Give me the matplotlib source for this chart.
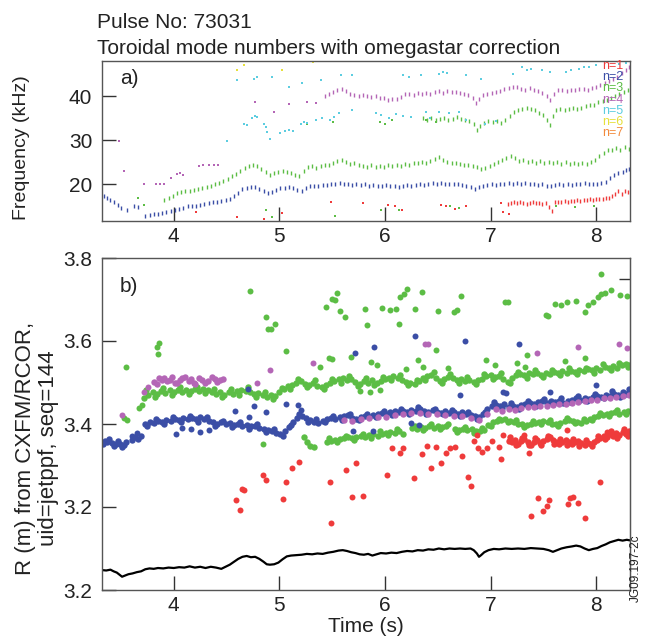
import matplotlib
matplotlib.use("Agg")
import matplotlib.pyplot as plt

plt.rcParams['font.family'] = ['Liberation Sans', 'DejaVu Sans']

# ---------------- panel a) frequency of modes ----------------
a_n2_t = [3.34,3.37,3.40,3.43,3.47,3.50,3.56,3.62,3.66,3.73,
          3.77,3.81,3.85,3.89,3.93,3.97,4.01,4.05,4.09,4.13,
          4.17,4.21,4.25,4.29,4.33,4.37,4.41,4.45,4.49,4.53,
          4.57,4.61,4.65,4.69,4.73,4.77,4.81,4.85,4.89,4.93,
          4.97,5.01,5.05,5.09,5.13,5.17,5.21,5.25,5.29,5.33,
          5.37,5.41,5.45,5.49,5.53,5.57,5.61,5.65,5.69,5.73,
          5.77,5.81,5.85,5.89,5.93,5.97,6.01,6.05,6.09,6.13,
          6.17,6.21,6.25,6.29,6.33,6.37,6.41,6.45,6.49,6.53,
          6.57,6.61,6.65,6.69,6.73,6.77,6.81,6.85,6.89,6.93,
          6.97,7.01,7.05,7.09,7.13,7.17,7.21,7.25,7.29,7.33,
          7.37,7.41,7.45,7.49,7.53,7.57,7.61,7.65,7.69,7.73,
          7.77,7.81,7.85,7.89,7.93,7.97,8.01,8.05,8.09,8.13,
          8.17,8.21,8.25,8.28,8.31]
a_n2_f = [17.4,17.0,16.5,16.1,15.3,14.6,14.2,15.0,14.8,12.9,
          13.1,13.3,13.4,13.6,13.8,14.0,14.2,14.5,14.7,15.0,
          15.1,15.2,15.3,15.5,15.7,15.9,16.0,16.2,16.4,16.8,
          17.4,18.1,18.9,19.2,19.3,19.3,18.9,18.4,18.0,18.2,
          18.7,19.1,19.2,19.3,19.1,18.8,18.6,19.2,19.6,19.7,
          19.6,19.8,19.9,20.0,20.2,20.3,20.1,20.2,19.9,20.1,
          19.8,20.0,19.7,19.9,19.7,19.6,19.8,19.6,19.7,19.5,
          19.6,19.8,19.7,19.9,20.0,19.9,20.2,20.3,20.1,20.3,
          20.0,20.2,20.0,20.1,19.8,19.7,19.4,19.0,19.3,19.6,
          19.9,20.0,19.8,20.1,20.0,20.3,20.2,20.4,20.1,20.3,
          20.0,20.2,19.9,20.1,19.7,19.6,19.9,20.1,19.8,20.0,
          19.9,20.1,20.0,20.3,20.1,20.2,20.0,20.3,20.6,21.5,
          22.1,22.6,22.9,23.2,23.4]

a_n3_t = [3.91,3.95,3.99,4.03,4.07,4.11,4.15,4.19,4.23,4.27,
          4.31,4.35,4.39,4.43,4.47,4.51,4.55,4.59,4.63,4.67,
          4.71,4.75,4.79,4.83,4.87,4.91,4.95,4.99,5.03,5.07,
          5.11,5.15,5.19,5.23,5.27,5.31,5.35,5.39,5.43,5.47,
          5.51,5.55,5.59,5.63,5.67,5.71,5.75,5.79,5.83,5.87,
          5.91,5.95,5.99,6.03,6.07,6.11,6.15,6.19,6.23,6.27,
          6.31,6.35,6.39,6.43,6.47,6.51,6.55,6.59,6.63,6.67,
          6.71,6.75,6.79,6.83,6.87,6.91,6.95,6.99,7.03,7.07,
          7.11,7.15,7.19,7.23,7.27,7.31,7.35,7.39,7.43,7.47,
          7.51,7.55,7.59,7.63,7.67,7.71,7.75,7.79,7.83,7.87,
          7.91,7.95,7.99,8.03,8.07,8.11,8.15,8.19,8.23,8.27,
          8.31]
a_n3_f = [16.5,16.9,17.4,18.0,18.2,18.4,18.5,18.7,18.9,19.1,
          19.3,19.6,20.0,20.4,20.8,21.3,21.8,22.4,23.1,23.7,
          24.2,24.5,24.1,23.4,22.7,22.2,22.6,22.9,23.1,22.9,
          22.6,22.2,21.9,23.0,24.0,24.1,23.8,24.2,24.4,24.3,
          24.8,25.2,25.5,25.0,24.6,24.9,24.4,24.1,24.0,24.3,
          24.0,24.2,24.0,24.3,24.1,24.3,24.2,24.6,24.4,24.8,
          24.9,25.1,24.8,25.3,25.8,26.2,25.5,25.0,24.8,24.9,
          24.6,24.4,24.5,24.2,23.9,23.6,23.8,24.2,24.7,25.1,
          25.5,26.0,26.4,25.9,25.4,25.6,25.0,25.3,24.9,25.2,
          24.8,25.1,24.8,25.0,24.7,25.0,24.6,24.9,24.6,24.9,
          24.7,25.1,25.6,26.4,27.2,27.7,27.9,28.3,27.8,28.4,
          28.0]

a_n3u_t = [6.36,6.40,6.44,6.48,6.52,6.56,6.60,6.64,6.68,6.72,
           6.76,6.80,6.84,6.87,6.90,6.94,6.98,7.02,7.06,7.10,
           7.14,7.18,7.22,7.26,7.30,7.34,7.38,7.42,7.46,7.50,
           7.53,7.56,7.59,7.62,7.66,7.70,7.74,7.78,7.82,7.86,
           7.90,7.94,7.98,8.02,8.06,8.10,8.14,8.18,8.22,8.26,
           8.30]
a_n3u_f = [35.0,34.7,35.0,34.5,34.8,35.1,34.7,34.9,35.2,34.8,
           34.6,34.3,33.6,32.4,33.3,34.0,34.3,34.1,34.4,34.0,
           34.5,35.4,36.4,36.9,37.1,37.3,37.0,36.8,36.3,35.8,
           34.6,33.4,35.5,36.9,37.1,36.9,37.2,37.4,37.1,37.4,
           37.7,38.0,38.1,38.6,39.0,39.2,39.6,40.0,40.5,41.0,
           41.3]

a_n1_t = [7.16,7.19,7.22,7.25,7.28,7.31,7.34,7.37,7.40,7.43,
          7.46,7.49,7.52,7.55,7.58,7.61,7.64,7.67,7.70,7.73,
          7.76,7.79,7.82,7.85,7.88,7.91,7.94,7.97,8.00,8.03,
          8.06,8.09,8.12,8.15,8.18,8.21,8.24,8.27,8.30]
a_n1_f = [15.6,15.8,15.9,15.7,15.9,15.8,15.6,15.8,15.9,15.7,
          15.8,15.6,15.7,14.8,13.9,15.9,16.1,16.0,16.2,16.1,
          16.3,16.2,16.4,16.3,16.5,16.4,16.6,16.5,16.7,16.6,
          16.8,16.9,17.0,17.3,17.8,18.4,17.9,18.6,18.2]
a_n1s_t = [4.21,4.60,4.85,5.02,5.49,5.79,6.03,6.09,6.16,6.53,6.58,6.66,6.77,7.10,7.12,7.17]
a_n1s_f = [13.8,12.7,12.2,13.6,16.0,15.7,15.4,15.1,14.1,15.3,15.0,14.4,15.0,15.7,13.8,13.4]

a_n4_t = [5.43,5.47,5.51,5.55,5.59,5.63,5.67,5.71,5.75,5.79,
          5.83,5.87,5.91,5.95,5.99,6.03,6.07,6.11,6.15,6.19,
          6.23,6.27,6.31,6.35,6.39,6.43,6.47,6.51,6.55,6.59,
          6.63,6.67,6.71,6.75,6.79,6.83,6.86,6.89,6.93,6.97,
          7.01,7.05,7.09,7.13,7.17,7.21,7.25,7.29,7.33,7.37,
          7.41,7.45,7.49,7.53,7.56,7.60,7.64,7.68,7.72,7.76,
          7.80,7.84,7.88,7.92,7.96,8.00,8.04,8.08,8.12,8.16,
          8.20,8.24,8.28,8.31]
a_n4_f = [40.0,40.4,40.9,41.3,41.7,41.2,40.6,40.3,40.0,40.3,
          40.0,39.8,40.1,39.7,39.5,39.2,39.4,39.3,39.8,40.4,
          40.6,40.3,40.7,40.5,40.8,40.6,41.0,41.2,40.8,41.1,
          40.9,41.0,40.7,40.6,40.2,39.6,38.5,39.4,40.2,40.5,
          40.8,41.0,41.2,41.6,41.9,42.1,42.0,41.7,41.5,41.8,
          41.4,41.2,40.8,40.1,39.2,40.6,41.3,41.4,41.2,41.5,
          41.3,41.6,41.7,41.5,41.9,42.2,42.6,43.0,43.4,43.8,
          44.4,45.2,46.0,46.7]
a_n4s_t = [3.48,3.53,3.72,3.83,3.87,3.91,3.97,4.03,4.06,4.09,
           4.24,4.28,4.33,4.38,4.42,4.77,4.95,5.09,5.26,5.35]
a_n4s_f = [29.8,23.0,20.2,20.0,20.1,20.0,21.4,22.3,22.5,22.1,
           24.2,24.5,24.3,24.4,24.4,38.7,36.5,38.3,38.7,38.5]

a_n3s_t = [5.26,5.51,5.95,6.00,6.07,6.39,6.48,4.87,4.93,5.53,
           5.96,6.13,6.62,6.70,7.62,7.80,7.98,3.66,3.72]
a_n3s_f = [33.8,34.2,34.2,33.8,34.6,34.6,34.2,14.3,12.5,12.8,
           14.3,14.3,15.0,14.6,15.0,14.8,15.2,17.0,15.4]

a_n5_t = [4.50,4.66,4.69,4.74,4.77,4.79,4.85,4.87,4.88,4.91,
          5.01,5.05,5.09,5.13,5.20,5.23,5.26,5.35,5.40,5.48,
          5.52,5.56,5.69,5.91,5.96,6.04,6.10,6.17,6.25,6.39,
          6.43,6.51,6.61,6.70,6.77,6.95,7.05]
a_n5_f = [29.9,33.8,33.4,35.0,35.4,35.2,33.8,33.1,31.9,30.4,
          31.7,32.0,32.3,32.0,33.8,34.2,33.9,34.6,35.0,34.6,
          35.3,36.1,36.8,36.1,35.7,35.0,36.0,35.5,35.2,36.5,
          35.0,36.5,36.1,36.5,34.6,33.8,34.4]
a_n5u_t = [4.60,4.76,4.79,4.93,5.09,5.21,5.39,5.58,5.69,6.17,
           6.23,6.34,6.51,6.55,6.59,6.77,6.91,7.21,7.30,7.34,
           7.38,7.49,7.56,7.71,7.76,7.84,7.88,7.93,8.00,8.22,
           8.28]
a_n5u_f = [43.6,44.0,44.4,44.4,42.0,42.9,43.6,44.8,44.8,44.8,
           44.4,44.8,45.1,45.5,45.2,44.8,44.0,45.1,46.6,45.9,
           46.2,45.9,45.5,45.5,45.9,46.2,46.6,46.6,47.0,47.3,
           47.6]
a_n6_t = [4.60,4.66,5.02,5.32,6.92]
a_n6_f = [45.9,47.0,45.9,47.8,47.9]

legend_labels = ['n=1', 'n=2', 'n=3', 'n=4', 'n=5', 'n=6', 'n=7']

# ---------------- panel b) radial position ----------------
b_gu_t = [3.72,3.76,3.80,3.84,3.88,3.92,3.96,4.00,4.04,4.08,
          4.12,4.16,4.20,4.24,4.28,4.32,4.36,4.40,4.44,4.48,
          4.52,4.56,4.60,4.64,4.68,4.72,4.76,4.80,4.84,4.88,
          4.92,4.96,5.00,5.04,5.08,5.12,5.16,5.20,5.24,5.28,
          5.32,5.36,5.40,5.44,5.48,5.52,5.56,5.60,5.64,5.68,
          5.72,5.76,5.80,5.84,5.88,5.92,5.96,6.00,6.04,6.08,
          6.12,6.16,6.20,6.24,6.28,6.32,6.36,6.40,6.44,6.48,
          6.52,6.56,6.60,6.64,6.68,6.72,6.76,6.80,6.84,6.88,
          6.92,6.96,7.00,7.04,7.08,7.12,7.16,7.20,7.24,7.28,
          7.32,7.36,7.40,7.44,7.48,7.52,7.56,7.60,7.64,7.68,
          7.72,7.76,7.80,7.84,7.88,7.92,7.96,8.00,8.04,8.08,
          8.12,8.16,8.20,8.24,8.28,8.31]
b_gu_r = [3.462,3.470,3.476,3.472,3.479,3.475,3.481,3.476,3.482,3.478,
          3.483,3.479,3.484,3.480,3.485,3.481,3.478,3.472,3.476,3.471,
          3.477,3.473,3.479,3.483,3.480,3.476,3.472,3.474,3.469,3.466,
          3.470,3.468,3.476,3.484,3.491,3.495,3.499,3.503,3.497,3.494,
          3.498,3.492,3.488,3.495,3.499,3.504,3.508,3.511,3.505,3.508,
          3.501,3.497,3.503,3.499,3.505,3.500,3.504,3.508,3.511,3.515,
          3.510,3.506,3.502,3.499,3.497,3.503,3.510,3.516,3.519,3.511,
          3.503,3.508,3.514,3.511,3.507,3.509,3.504,3.507,3.502,3.505,
          3.509,3.515,3.518,3.513,3.516,3.508,3.502,3.511,3.518,3.521,
          3.517,3.523,3.520,3.524,3.519,3.523,3.521,3.526,3.522,3.527,
          3.524,3.528,3.525,3.530,3.527,3.532,3.529,3.534,3.531,3.537,
          3.534,3.539,3.536,3.541,3.545,3.543]
b_gu2_t = [3.74,3.82,3.90,3.98,4.06,4.14,4.22,4.30,4.38,4.46,
           4.54,4.62,4.70,4.78,4.86,4.94,5.02,5.10,5.18,5.26,
           5.34,5.42,5.50,5.58,5.66,5.74,5.82,5.90,5.98,6.06,
           6.14,6.22,6.30,6.38,6.46,6.54,6.62,6.70,6.78,6.86,
           6.94,7.02,7.10,7.18,7.26,7.34,7.42,7.50,7.58,7.66,
           7.74,7.82,7.90,7.98,8.06,8.14,8.22,8.30]
b_gu2_r = [3.482,3.466,3.486,3.469,3.489,3.472,3.490,3.474,3.484,3.466,
           3.485,3.470,3.488,3.465,3.476,3.460,3.486,3.484,3.508,3.488,
           3.506,3.484,3.509,3.500,3.515,3.492,3.510,3.494,3.514,3.505,
           3.518,3.494,3.506,3.505,3.525,3.498,3.520,3.500,3.514,3.497,
           3.520,3.508,3.522,3.498,3.526,3.512,3.530,3.514,3.530,3.518,
           3.534,3.520,3.536,3.524,3.545,3.530,3.548,3.538]

b_bl_t = [3.33,3.35,3.37,3.39,3.41,3.43,3.45,3.47,3.49,3.51,
          3.53,3.55,3.60,3.63,3.66,3.69,3.73,3.77,3.81,3.85,
          3.89,3.93,3.97,4.01,4.05,4.09,4.13,4.17,4.21,4.25,
          4.29,4.33,4.37,4.41,4.45,4.49,4.53,4.57,4.61,4.65,
          4.69,4.73,4.77,4.81,4.85,4.89,4.93,4.97,5.01,5.05,
          5.09,5.13,5.17,5.21,5.25,5.29,5.33,5.37,5.41,5.45,
          5.49,5.53,5.57,5.61,5.65,5.69,5.73,5.77,5.81,5.85,
          5.89,5.93,5.97,6.01,6.05,6.09,6.13,6.17,6.21,6.25,
          6.29,6.33,6.37,6.41,6.45,6.49,6.53,6.57,6.61,6.65,
          6.69,6.73,6.77,6.81,6.85,6.89,6.93,6.97,7.01,7.05,
          7.09,7.13,7.17,7.21,7.25,7.29,7.33,7.37,7.41,7.45,
          7.49,7.53,7.57,7.61,7.65,7.69,7.73,7.77,7.81,7.85,
          7.89,7.93,7.97,8.01,8.05,8.09,8.13,8.17,8.21,8.25,
          8.28,8.31]
b_bl_r = [3.352,3.360,3.356,3.364,3.355,3.348,3.353,3.360,3.351,3.345,
          3.350,3.356,3.362,3.368,3.365,3.372,3.401,3.405,3.403,3.408,
          3.406,3.410,3.407,3.412,3.409,3.414,3.411,3.415,3.412,3.416,
          3.412,3.408,3.404,3.401,3.404,3.399,3.402,3.397,3.400,3.395,
          3.398,3.394,3.396,3.391,3.388,3.385,3.382,3.379,3.377,3.383,
          3.392,3.404,3.414,3.419,3.414,3.410,3.406,3.403,3.408,3.412,
          3.415,3.411,3.416,3.419,3.422,3.415,3.412,3.417,3.420,3.418,
          3.421,3.424,3.427,3.424,3.428,3.431,3.428,3.432,3.429,3.434,
          3.431,3.435,3.432,3.429,3.433,3.430,3.427,3.431,3.426,3.429,
          3.425,3.428,3.424,3.421,3.419,3.416,3.423,3.436,3.443,3.446,
          3.443,3.447,3.441,3.444,3.440,3.445,3.448,3.451,3.447,3.452,
          3.455,3.451,3.456,3.452,3.455,3.451,3.456,3.459,3.462,3.458,
          3.463,3.460,3.465,3.468,3.465,3.471,3.468,3.473,3.470,3.476,
          3.472,3.478]
b_bl2_t = [3.75,3.83,3.91,3.99,4.07,4.15,4.23,4.31,4.39,4.47,
           4.55,4.63,4.71,4.79,4.87,4.95,5.03,5.11,5.19,5.27,
           5.35,5.43,5.51,5.59,5.67,5.75,5.83,5.91,5.99,6.07,
           6.15,6.23,6.31,6.39,6.47,6.55,6.63,6.71,6.79,6.87,
           6.95,7.03,7.11,7.19,7.27,7.35,7.43,7.51,7.59,7.67,
           7.75,7.83,7.91,7.99,8.07,8.15,8.23,8.31]
b_bl2_r = [3.396,3.412,3.400,3.418,3.404,3.420,3.406,3.418,3.396,3.408,
           3.392,3.404,3.389,3.400,3.380,3.388,3.372,3.398,3.424,3.406,
           3.412,3.404,3.420,3.410,3.425,3.410,3.424,3.416,3.432,3.422,
           3.437,3.425,3.440,3.424,3.437,3.424,3.434,3.420,3.428,3.412,
           3.430,3.452,3.438,3.450,3.436,3.456,3.444,3.461,3.448,3.462,
           3.452,3.468,3.456,3.473,3.462,3.480,3.466,3.484]

b_pe_t = [3.81,3.84,3.86,3.89,3.91,3.94,3.96,3.98,4.01,4.03,
          4.06,4.08,4.11,4.14,4.16,4.19,4.20,4.24,4.27,4.30,
          4.32,4.36,4.39,4.41,4.44,4.47]
b_pe_r = [3.502,3.497,3.510,3.506,3.511,3.503,3.506,3.514,3.500,3.498,
          3.507,3.511,3.514,3.504,3.508,3.500,3.496,3.510,3.506,3.498,
          3.504,3.514,3.508,3.502,3.506,3.508]

b_pl_t = [5.61,5.69,5.77,5.85,5.93,6.01,6.09,6.17,6.25,6.33,
          6.41,6.49,6.57,6.65,6.73,6.81,6.89,6.97,7.05,7.11,
          7.17,7.23,7.29,7.35,7.41,7.47,7.53,7.59,7.65,7.71,
          7.77,7.83,7.89,7.95,8.01,8.07,8.13,8.19,8.25,8.31]
b_pl_r = [3.410,3.408,3.412,3.414,3.418,3.417,3.422,3.424,3.426,3.427,
          3.423,3.424,3.422,3.420,3.419,3.414,3.410,3.424,3.436,3.432,
          3.436,3.434,3.438,3.440,3.441,3.444,3.443,3.446,3.447,3.449,
          3.450,3.453,3.455,3.457,3.459,3.462,3.463,3.465,3.467,3.469]

b_gl_t = [5.23,5.26,5.29,5.33,5.45,5.49,5.53,5.57,5.61,5.65,
          5.69,5.73,5.77,5.81,5.85,5.89,5.93,5.97,6.01,6.05,
          6.09,6.13,6.17,6.26,6.30,6.34,6.38,6.42,6.46,6.50,
          6.54,6.58,6.66,6.70,6.74,6.78,6.82,6.86,6.90,6.94,
          6.98,7.02,7.06,7.10,7.14,7.18,7.22,7.26,7.30,7.34,
          7.38,7.42,7.46,7.50,7.54,7.58,7.62,7.66,7.70,7.74,
          7.78,7.82,7.86,7.90,7.94,7.98,8.02,8.06,8.10,8.14,
          8.18,8.22,8.26,8.30]
b_gl_r = [3.369,3.357,3.347,3.344,3.357,3.360,3.362,3.364,3.366,3.368,
          3.366,3.369,3.371,3.368,3.373,3.375,3.372,3.377,3.379,3.381,
          3.378,3.383,3.375,3.391,3.388,3.392,3.390,3.394,3.391,3.395,
          3.393,3.396,3.388,3.386,3.389,3.385,3.388,3.384,3.382,3.386,
          3.398,3.404,3.407,3.410,3.412,3.408,3.405,3.401,3.399,3.397,
          3.399,3.402,3.405,3.407,3.404,3.401,3.400,3.403,3.407,3.410,
          3.408,3.405,3.403,3.407,3.412,3.416,3.419,3.422,3.424,3.426,
          3.428,3.425,3.429,3.431]
b_gl2_t = [5.47,5.55,5.63,5.71,5.79,5.87,5.95,6.03,6.11,6.28,
           6.36,6.44,6.52,6.60,6.68,6.76,6.84,6.92,7.00,7.08,
           7.16,7.24,7.32,7.40,7.48,7.56,7.64,7.72,7.80,7.88,
           7.96,8.04,8.12,8.20,8.28]
b_gl2_r = [3.366,3.356,3.372,3.362,3.377,3.367,3.383,3.374,3.387,3.396,
           3.385,3.399,3.388,3.400,3.380,3.393,3.379,3.390,3.394,3.413,
           3.404,3.410,3.393,3.407,3.401,3.409,3.396,3.414,3.402,3.411,
           3.410,3.426,3.419,3.433,3.424]

b_rb_t = [7.17,7.20,7.23,7.26,7.29,7.32,7.35,7.38,7.41,7.44,
          7.47,7.50,7.53,7.56,7.59,7.62,7.65,7.68,7.71,7.74,
          7.77,7.80,7.83,7.86,7.89,7.92,7.95,7.98,8.01,8.04,
          8.07,8.10,8.13,8.16,8.19,8.22,8.25,8.28,8.31]
b_rb_r = [3.360,3.356,3.362,3.352,3.358,3.364,3.357,3.350,3.356,3.361,
          3.355,3.359,3.364,3.368,3.362,3.357,3.352,3.357,3.362,3.356,
          3.351,3.356,3.360,3.354,3.350,3.355,3.352,3.357,3.362,3.367,
          3.372,3.369,3.375,3.371,3.378,3.373,3.380,3.376,3.382]
b_rb2_t = [7.18,7.24,7.30,7.36,7.42,7.48,7.54,7.60,7.66,7.72,
           7.78,7.84,7.90,7.96,8.02,8.08,8.14,8.20,8.26,8.30]
b_rb2_r = [3.368,3.350,3.366,3.350,3.366,3.349,3.372,3.352,3.364,3.350,
           3.364,3.348,3.361,3.346,3.370,3.363,3.383,3.366,3.388,3.371]

b_rs_t = [4.59,4.63,4.65,4.66,4.84,4.87,5.03,5.06,5.12,5.19,
          5.48,5.49,5.63,5.69,5.73,5.79,6.02,6.07,6.14,6.17,
          6.27,6.35,6.40,6.44,6.48,6.53,6.58,6.62,6.66,6.73,
          6.79,6.81,6.84,6.88,6.92,6.97,7.01,7.08,7.10,7.36,
          7.38,7.45,7.50,7.53,7.55,7.73,7.75,7.78,7.83,7.89,
          8.04,6.87,7.12,7.32,7.72,8.10]
b_rs_r = [3.217,3.193,3.243,3.240,3.276,3.265,3.220,3.260,3.294,3.308,
          3.261,3.162,3.290,3.225,3.305,3.227,3.278,3.341,3.331,3.343,
          3.270,3.328,3.348,3.294,3.345,3.305,3.329,3.341,3.345,3.324,
          3.273,3.251,3.358,3.341,3.333,3.343,3.358,3.345,3.316,3.331,
          3.178,3.221,3.190,3.202,3.218,3.207,3.222,3.223,3.210,3.173,
          3.261,3.373,3.373,3.374,3.385,3.380]

b_gs_t = [3.55,3.84,3.86,3.85,4.72,4.87,4.89,4.92,4.96,5.06,
          5.44,5.50,5.55,5.53,5.57,5.62,5.81,5.83,5.97,6.05,
          6.10,6.13,6.14,6.18,6.21,6.35,6.28,6.48,6.50,6.65,
          6.68,6.72,7.14,7.16,7.52,7.54,7.61,7.67,7.72,7.81,
          7.89,7.92,7.97,8.02,8.05,8.08,8.05,8.14,8.23,8.29,
          5.38,5.47,5.50,5.68,5.87,5.92,6.31,6.36,6.96,7.04,
          7.33,7.34,7.89,3.53,3.56,3.67,3.70,4.84,5.76,5.86,
          5.95,6.20,6.60,7.25,7.70]
b_gs_r = [3.538,3.586,3.594,3.568,3.721,3.657,3.630,3.628,3.641,3.577,
          3.681,3.702,3.716,3.698,3.673,3.657,3.677,3.638,3.680,3.674,
          3.677,3.641,3.706,3.714,3.726,3.718,3.676,3.578,3.672,3.670,
          3.674,3.709,3.694,3.694,3.662,3.660,3.690,3.686,3.694,3.696,
          3.670,3.686,3.694,3.706,3.714,3.716,3.761,3.724,3.710,3.708,
          3.538,3.558,3.557,3.561,3.550,3.542,3.554,3.538,3.554,3.542,
          3.538,3.566,3.558,3.414,3.410,3.438,3.446,3.353,3.480,3.478,
          3.482,3.532,3.535,3.546,3.551]

b_bs_t = [4.02,4.08,4.16,4.25,4.33,4.58,4.71,4.70,4.76,4.87,
          5.06,5.18,5.20,5.72,5.90,6.28,6.76,7.27,6.71,7.12,
          7.15,7.56,8.00,5.70,5.89,6.25,6.32,3.60,3.65]
b_bs_r = [3.375,3.390,3.388,3.380,3.386,3.431,3.416,3.484,3.444,3.430,
          3.447,3.446,3.434,3.570,3.586,3.613,3.600,3.593,3.470,3.478,
          3.474,3.478,3.494,3.382,3.382,3.402,3.398,3.372,3.378]

b_ps_t = [3.51,3.72,3.76,4.79,4.91,5.32,6.38,6.41,7.44,7.83,8.22,8.29]
b_ps_r = [3.422,3.478,3.488,3.498,3.529,3.546,3.593,3.593,3.571,3.586,3.593,3.582]

b_k_t = [3.32,3.36,3.40,3.43,3.46,3.49,3.51,3.54,3.57,3.61,
         3.65,3.69,3.73,3.77,3.81,3.85,3.90,3.95,4.00,4.05,
         4.10,4.15,4.20,4.25,4.30,4.35,4.40,4.45,4.49,4.53,
         4.57,4.61,4.65,4.69,4.73,4.77,4.81,4.85,4.88,4.91,
         4.95,4.99,5.03,5.07,5.11,5.16,5.21,5.26,5.31,5.36,
         5.41,5.46,5.51,5.56,5.60,5.64,5.68,5.72,5.76,5.80,
         5.84,5.88,5.92,5.96,6.01,6.06,6.11,6.16,6.21,6.26,
         6.31,6.36,6.41,6.46,6.51,6.56,6.61,6.66,6.71,6.76,
         6.81,6.84,6.87,6.89,6.91,6.94,6.98,7.03,7.08,7.14,
         7.20,7.26,7.32,7.38,7.44,7.50,7.55,7.59,7.63,7.67,
         7.72,7.77,7.81,7.85,7.89,7.93,7.97,8.01,8.05,8.09,
         8.13,8.17,8.21,8.25,8.29,8.31]
b_k_r = [3.048,3.047,3.049,3.045,3.042,3.036,3.032,3.035,3.038,3.040,
         3.043,3.045,3.050,3.052,3.051,3.053,3.052,3.054,3.053,3.055,
         3.054,3.057,3.054,3.056,3.053,3.056,3.054,3.051,3.056,3.061,
         3.068,3.075,3.080,3.082,3.079,3.080,3.075,3.068,3.062,3.061,
         3.062,3.066,3.074,3.081,3.083,3.084,3.085,3.087,3.086,3.088,
         3.087,3.090,3.092,3.095,3.096,3.094,3.091,3.089,3.086,3.085,
         3.087,3.083,3.086,3.089,3.088,3.090,3.089,3.092,3.094,3.093,
         3.096,3.095,3.098,3.097,3.100,3.098,3.100,3.099,3.100,3.099,
         3.100,3.096,3.088,3.080,3.084,3.091,3.096,3.099,3.098,3.100,
         3.099,3.100,3.099,3.101,3.100,3.099,3.096,3.092,3.096,3.100,
         3.103,3.105,3.107,3.105,3.100,3.096,3.099,3.101,3.106,3.110,
         3.115,3.118,3.121,3.119,3.121,3.120]

time_ticks = [4, 5, 6, 7, 8]
freq_ticks = [20, 30, 40]
r_ticks = [3.0, 3.2, 3.4, 3.6, 3.8]
r_tick_labels = ['3.2', '3.2', '3.4', '3.6', '3.8']

# ---------------- styling ----------------
RED = '#ef3b3b'
BLUE = '#3b4ea6'
GREEN = '#5cbd45'
PURPLE = '#b466b6'
CYAN = '#5ccde0'
YELLOW = '#e6e03c'
ORANGE = '#f28a3c'
legend_colors = [RED, BLUE, GREEN, PURPLE, CYAN, YELLOW, ORANGE]
TXT = '#222222'
SPINE = '#555555'

W, H = 646, 640
fig = plt.figure(figsize=(W / 100, H / 100), dpi=100)
L, R = 102, 630
axa = fig.add_axes([L / W, 1 - 221 / H, (R - L) / W, (221 - 60.5) / H])
axb = fig.add_axes([L / W, 1 - 590 / H, (R - L) / W, (590 - 258) / H])

for ax in (axa, axb):
    ax.set_xlim(3.32, 8.32)
    ax.set_xticks(time_ticks)
    ax.tick_params(direction='in', length=10, width=1, color='#333333',
                   labelsize=15, labelcolor=TXT)
    ax.tick_params(axis='x', pad=4)
    ax.tick_params(axis='y', pad=7)
    for s in ax.spines.values():
        s.set_color(SPINE)
        s.set_linewidth(1.0)

axa.set_ylim(11.7, 48.1)
axa.set_yticks(freq_ticks)
axb.set_ylim(3.0, 3.8)
axb.set_yticks(r_ticks)
axb.set_yticklabels(r_tick_labels)

sec = axb.secondary_yaxis('right')
sec.set_yticks([3.75])
sec.set_yticklabels([])
sec.tick_params(direction='in', length=8, width=1, color='#333333')
sec.spines['right'].set_color(SPINE)

# panel a drawing
tr = dict(linestyle='none', marker='|', markersize=3.0, markeredgewidth=1.0)
dot = dict(linestyle='none', marker='s', markersize=1.5, markeredgewidth=0)
axa.plot(a_n2_t, a_n2_f, color=BLUE, **tr)
axa.plot(a_n3_t, a_n3_f, color=GREEN, **tr)
axa.plot(a_n3u_t, a_n3u_f, color=GREEN, **tr)
axa.plot(a_n1_t, a_n1_f, color=RED, **tr)
axa.plot(a_n4_t, a_n4_f, color=PURPLE, **tr)
axa.plot(a_n1s_t, a_n1s_f, color=RED, **dot)
axa.plot(a_n4s_t, a_n4s_f, color=PURPLE, **dot)
axa.plot(a_n3s_t, a_n3s_f, color=GREEN, **dot)
axa.plot(a_n5_t, a_n5_f, color=CYAN, **dot)
axa.plot(a_n5u_t, a_n5u_f, color=CYAN, **dot)
axa.plot(a_n6_t, a_n6_f, color=YELLOW, **dot)

for i, (lab, col) in enumerate(zip(legend_labels, legend_colors)):
    fig.text(602 / W, 1 - (66 + 11.2 * i) / H, lab, color=col, fontsize=9,
             ha='left', va='center')

# panel b drawing
band = dict(linestyle='none', marker='o', markersize=4.6, markeredgewidth=0)
mk = dict(linestyle='none', marker='o', markersize=4.3, markeredgewidth=0)
axb.plot(b_gu_t, b_gu_r, color=GREEN, **band)
axb.plot(b_gu2_t, b_gu2_r, color=GREEN, **band)
axb.plot(b_pe_t, b_pe_r, color=PURPLE, **band)
axb.plot(b_bl_t, b_bl_r, color=BLUE, **band)
axb.plot(b_bl2_t, b_bl2_r, color=BLUE, **band)
axb.plot(b_pl_t, b_pl_r, color=PURPLE, **band)
axb.plot(b_gl_t, b_gl_r, color=GREEN, **band)
axb.plot(b_gl2_t, b_gl2_r, color=GREEN, **band)
axb.plot(b_rb_t, b_rb_r, color=RED, **band)
axb.plot(b_rb2_t, b_rb2_r, color=RED, **band)
axb.plot(b_rs_t, b_rs_r, color=RED, **mk)
axb.plot(b_gs_t, b_gs_r, color=GREEN, **mk)
axb.plot(b_bs_t, b_bs_r, color=BLUE, **mk)
axb.plot(b_ps_t, b_ps_r, color=PURPLE, **mk)
axb.plot(b_k_t, b_k_r, color='black', linewidth=1.6)

# texts
fig.text(97 / W, 1 - 28 / H, 'Pulse No: 73031', fontsize=15, color=TXT, va='baseline')
fig.text(97 / W, 1 - 54 / H, 'Toroidal mode numbers with omegastar correction',
         fontsize=15, color=TXT, va='baseline')
fig.text(120 / W, 1 - 84 / H, 'a)', fontsize=15, color=TXT, va='baseline')
fig.text(120 / W, 1 - 292 / H, 'b)', fontsize=15, color=TXT, va='baseline')
fig.text(22 / W, 1 - 148 / H, 'Frequency (kHz)', fontsize=14, color=TXT,
         rotation=90, ha='center', va='center')
fig.text(37 / W, 1 - 448 / H, 'R (m) from CXFM/RCOR,\nuid=jetppf, seq=144',
         fontsize=16, color=TXT, rotation=90, ha='center', va='center',
         multialignment='center', linespacing=1.15)
fig.text(366 / W, 1 - 627 / H, 'Time (s)', fontsize=15, color=TXT,
         ha='center', va='center')
fig.text(636 / W, 1 - 568 / H, 'JG09.197-2c', fontsize=8.5, color=TXT,
         rotation=90, ha='center', va='center')

fig.savefig('out.png', dpi=100)
